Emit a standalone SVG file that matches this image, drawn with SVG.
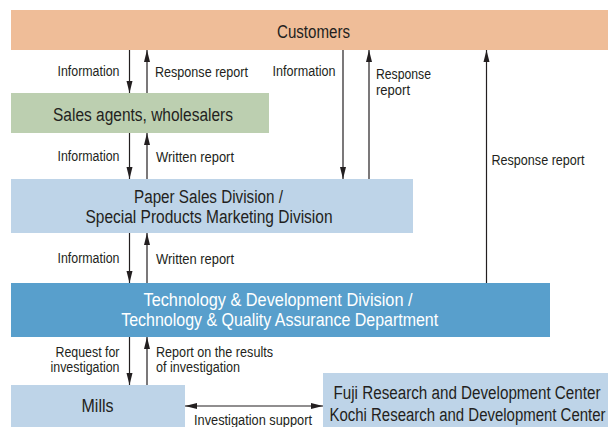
<svg xmlns="http://www.w3.org/2000/svg" width="608" height="427" viewBox="0 0 608 427">
<style>
text{font-family:"Liberation Sans",Arial,sans-serif;fill:#231f20}
.lb{font-size:14px}
.nd{font-size:18px}
.wt{fill:#ffffff}
.ln{stroke:#231f20;stroke-width:1.2;fill:none}
</style>
<defs>
<marker id="ah" markerUnits="userSpaceOnUse" markerWidth="13" markerHeight="7" refX="12" refY="3" orient="auto-start-reverse" viewBox="0 0 13 6">
<path d="M0,0 L12,3 L0,6 z" fill="#231f20"/>
</marker>
</defs>
<rect width="608" height="427" fill="#ffffff"/>
<g id="customers">
<rect x="11" y="10" width="597" height="40" fill="#efbd98"/>
<text class="nd" x="313.5" y="38" text-anchor="middle" textLength="73" lengthAdjust="spacingAndGlyphs">Customers</text>
</g>
<g id="sales-agents">
<rect x="11" y="93" width="258" height="40" fill="#bccfb0"/>
<text class="nd" x="143" y="121" text-anchor="middle" textLength="180" lengthAdjust="spacingAndGlyphs">Sales agents, wholesalers</text>
</g>
<g id="paper-sales">
<rect x="11" y="179" width="402" height="54" fill="#bed4e8"/>
<text class="nd" x="208.5" y="203" text-anchor="middle" textLength="149" lengthAdjust="spacingAndGlyphs">Paper Sales Division /</text>
<text class="nd" x="209" y="223" text-anchor="middle" textLength="247" lengthAdjust="spacingAndGlyphs">Special Products Marketing Division</text>
</g>
<g id="technology">
<rect x="11" y="283" width="539" height="54" fill="#589fcc"/>
<text class="nd wt" x="278" y="306" text-anchor="middle" textLength="269" lengthAdjust="spacingAndGlyphs">Technology &amp;  Development Division /</text>
<text class="nd wt" x="279.7" y="326" text-anchor="middle" textLength="317" lengthAdjust="spacingAndGlyphs">Technology &amp; Quality Assurance Department</text>
</g>
<g id="mills">
<rect x="11" y="385" width="174" height="42" fill="#bed4e8"/>
<text class="nd" x="97.5" y="412" text-anchor="middle" textLength="32" lengthAdjust="spacingAndGlyphs">Mills</text>
</g>
<g id="research-centers">
<rect x="323" y="373" width="285" height="54" fill="#bed4e8"/>
<text class="nd" x="333.5" y="398.5" textLength="267" lengthAdjust="spacingAndGlyphs">Fuji Research and Development Center</text>
<text class="nd" x="329.5" y="420.5" textLength="276" lengthAdjust="spacingAndGlyphs">Kochi Research and Development Center</text>
</g>
<g id="connectors">
<line class="ln" x1="129.5" y1="50" x2="129.5" y2="93" marker-end="url(#ah)"/>
<line class="ln" x1="147" y1="93" x2="147" y2="50" marker-end="url(#ah)"/>
<line class="ln" x1="343" y1="50" x2="343" y2="179" marker-end="url(#ah)"/>
<line class="ln" x1="369" y1="179" x2="369" y2="50" marker-end="url(#ah)"/>
<line class="ln" x1="486.5" y1="283" x2="486.5" y2="50" marker-end="url(#ah)"/>
<line class="ln" x1="129.5" y1="133" x2="129.5" y2="179" marker-end="url(#ah)"/>
<line class="ln" x1="147" y1="179" x2="147" y2="133" marker-end="url(#ah)"/>
<line class="ln" x1="129.5" y1="233" x2="129.5" y2="283" marker-end="url(#ah)"/>
<line class="ln" x1="147" y1="283" x2="147" y2="233" marker-end="url(#ah)"/>
<line class="ln" x1="129.5" y1="337" x2="129.5" y2="385" marker-end="url(#ah)"/>
<line class="ln" x1="147" y1="385" x2="147" y2="337" marker-end="url(#ah)"/>
<line class="ln" x1="185" y1="406" x2="323" y2="406" marker-start="url(#ah)" marker-end="url(#ah)"/>
<text class="lb" x="119.5" y="76" text-anchor="end" textLength="62" lengthAdjust="spacingAndGlyphs">Information</text>
<text class="lb" x="155" y="77" textLength="93" lengthAdjust="spacingAndGlyphs">Response report</text>
<text class="lb" x="335.5" y="76" text-anchor="end" textLength="63" lengthAdjust="spacingAndGlyphs">Information</text>
<text class="lb" x="376" y="79" textLength="55" lengthAdjust="spacingAndGlyphs">Response</text>
<text class="lb" x="376" y="95" textLength="34" lengthAdjust="spacingAndGlyphs">report</text>
<text class="lb" x="119.5" y="161" text-anchor="end" textLength="62" lengthAdjust="spacingAndGlyphs">Information</text>
<text class="lb" x="156" y="162" textLength="78" lengthAdjust="spacingAndGlyphs">Written report</text>
<text class="lb" x="491.5" y="165" textLength="93" lengthAdjust="spacingAndGlyphs">Response report</text>
<text class="lb" x="119.5" y="263" text-anchor="end" textLength="62" lengthAdjust="spacingAndGlyphs">Information</text>
<text class="lb" x="156" y="264" textLength="78" lengthAdjust="spacingAndGlyphs">Written report</text>
<text class="lb" x="119.5" y="357" text-anchor="end" textLength="64" lengthAdjust="spacingAndGlyphs">Request for</text>
<text class="lb" x="119.5" y="372" text-anchor="end" textLength="69" lengthAdjust="spacingAndGlyphs">investigation</text>
<text class="lb" x="156" y="357" textLength="117" lengthAdjust="spacingAndGlyphs">Report on the results</text>
<text class="lb" x="156" y="372" textLength="84" lengthAdjust="spacingAndGlyphs">of investigation</text>
<text class="lb" x="194" y="425" textLength="118" lengthAdjust="spacingAndGlyphs">Investigation support</text>
</g>
</svg>
